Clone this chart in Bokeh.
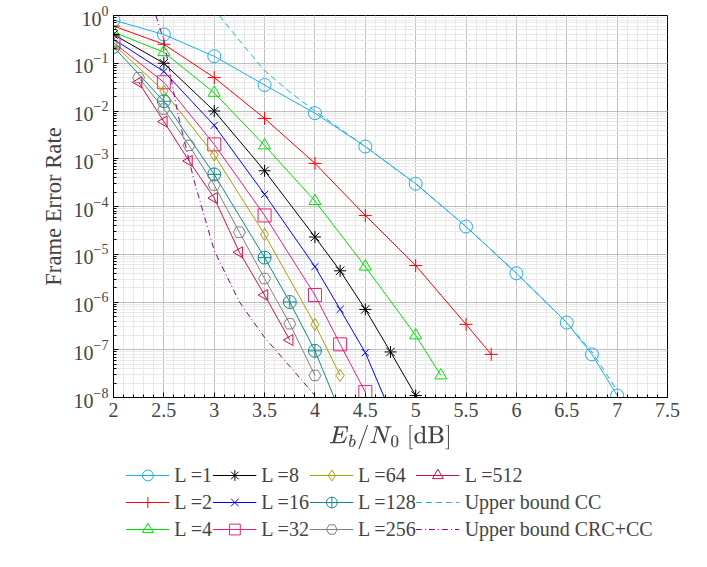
import math
from bokeh.plotting import figure
from bokeh.layouts import column
from bokeh.models import Legend, LegendItem, FixedTicker
from bokeh.embed import file_html
from bokeh.resources import INLINE

x1 = [2, 2.5, 3, 3.5, 4, 4.5, 5, 5.5, 6, 6.5, 6.75, 7]
y1 = [0.8, 0.4, 0.14, 0.035, 0.009, 1.8e-3, 3e-4, 3.8e-5, 4e-6, 3.7e-7, 8e-8, 1.1e-8]
x2 = [2, 2.5, 3, 3.5, 4, 4.5, 5, 5.5, 5.75]
y2 = [0.6, 0.25, 0.05, 7e-3, 8e-4, 6.5e-5, 5.8e-6, 3.4e-7, 8e-8]
x4 = [2, 2.5, 3, 3.5, 4, 4.5, 5, 5.25]
y4 = [0.45, 0.17, 0.024, 1.9e-3, 1.3e-4, 5.5e-6, 2e-7, 2.9e-8]
x8 = [2, 2.5, 3, 3.5, 4, 4.25, 4.5, 4.75, 5]
y8 = [0.4, 0.1, 0.01, 5.6e-4, 2.3e-5, 4.5e-6, 7e-7, 9e-8, 1.1e-8]
x16 = [2, 2.5, 3, 3.5, 4, 4.25, 4.5, 4.75]
y16 = [0.32, 0.067, 5e-3, 1.8e-4, 5.5e-6, 7e-7, 8.7e-8, 5e-9]
x32 = [2, 2.5, 3, 3.5, 4, 4.25, 4.5]
y32 = [0.27, 0.04, 2e-3, 6.5e-5, 1.4e-6, 1.3e-7, 1.3e-8]
x64 = [2, 2.5, 3, 3.5, 4, 4.25]
y64 = [0.25, 0.026, 1.2e-3, 2.6e-5, 3.4e-7, 2.9e-8]
x128 = [2, 2.5, 3, 3.5, 3.75, 4, 4.25]
y128 = [0.22, 0.016, 4.7e-4, 8.5e-6, 1e-6, 9.5e-8, 5e-9]
x256 = [2.25, 2.5, 2.75, 3, 3.25, 3.5, 3.75, 4]
y256 = [0.05, 0.011, 1.9e-3, 2.8e-4, 2.9e-5, 3.1e-6, 3.5e-7, 2.9e-8]
x512 = [2.25, 2.5, 2.75, 3, 3.25, 3.5, 3.75]
y512 = [0.04, 6e-3, 9e-4, 1.5e-4, 1.1e-5, 1.4e-6, 1.6e-7]
xub = [3.05, 3.25, 3.5, 3.75, 4, 4.5, 5, 5.5, 6, 6.5, 6.75, 7]
yub = [1.0, 0.3, 0.07, 0.025, 0.01, 1.8e-3, 3e-4, 3.8e-5, 4e-6, 3.7e-7, 9e-8, 1.4e-8]
xcrc = [2.42, 2.5, 2.64, 2.8, 3, 3.25, 3.5, 3.75, 4]
ycrc = [1.0, 0.3, 8.5e-3, 3.5e-4, 1.2e-5, 1e-6, 1.8e-7, 4.5e-8, 1.1e-8]

FONT = "Liberation Serif"
p = figure(frame_width=554, frame_height=382, x_range=(2, 7.5), y_range=(1e-8, 1),
           y_axis_type="log", output_backend="svg", toolbar_location=None,
           min_border_left=113, min_border_right=25, min_border_top=15, min_border_bottom=0)
p.outline_line_color = "black"
p.xaxis.ticker = FixedTicker(ticks=[2, 2.5, 3, 3.5, 4, 4.5, 5, 5.5, 6, 6.5, 7, 7.5],
                             minor_ticks=[2 + 0.1 * i for i in range(56)])
p.yaxis.ticker.desired_num_ticks = 9
for ax in (p.xaxis, p.yaxis):
    ax.major_label_text_font = FONT
    ax.major_label_text_font_size = "15pt"
    ax.axis_label_text_font = FONT
    ax.axis_label_text_font_size = "17pt"
    ax.axis_label_text_font_style = "normal"
    ax.major_tick_in = 5
    ax.major_tick_out = 0
    ax.minor_tick_in = 3
    ax.minor_tick_out = 0
p.xaxis.axis_label = r"$$E_b/N_0\ \mathrm{[dB]}$$"
p.yaxis.axis_label = "Frame Error Rate"
p.xgrid.grid_line_color = "#c0c0c0"
p.ygrid.grid_line_color = "#c0c0c0"
p.xgrid.minor_grid_line_color = "#e8e8e8"
p.ygrid.minor_grid_line_color = "#e8e8e8"

q = figure(width=690, height=100, output_backend="svg", toolbar_location=None,
           x_range=(0, 1), y_range=(0, 1), min_border=0)
q.axis.visible = False
q.grid.visible = False
q.outline_line_color = None
OFF = [-10]

items = []
def series(x, y, color, marker, label, size=11, angle=0.0):
    p.line(x, y, line_color=color, line_width=1)
    p.scatter(x, y, marker=marker, size=size, line_color=color, angle=angle,
              fill_color=None, line_width=1)
    l1 = q.line(OFF, OFF, line_color=color, line_width=1)
    l2 = q.scatter(OFF, OFF, marker=marker, size=size, line_color=color, angle=angle,
                   fill_color=None, line_width=1)
    items.append(LegendItem(label=label, renderers=[l1, l2]))

series(x1, y1, "#1aafe6", "circle", "L =1", 13)
series(x2, y2, "red", "cross", "L =2", 13)
series(x4, y4, "#00e000", "triangle", "L =4", 12)
series(x8, y8, "black", "asterisk", "L =8", 12)
series(x16, y16, "blue", "x", "L =16", 10)
series(x32, y32, "#e8207d", "square", "L =32", 13)
series(x64, y64, "#a8a000", "diamond", "L =64", 12)
series(x128, y128, "#108a8a", "circle_cross", "L =128", 13)
series(x256, y256, "gray", "hex", "L =256", 12)
series(x512, y512, "#d0104a", "triangle", "L =512", 11, angle=math.pi / 2)
p.line(xub, yub, line_color="#1aafe6", line_dash="6 4", line_width=1)
r = q.line(OFF, OFF, line_color="#1aafe6", line_dash="6 4", line_width=1)
items.append(LegendItem(label="Upper bound CC", renderers=[r]))
p.line(xcrc, ycrc, line_color="#8b008b", line_dash="6 3 1 3", line_width=1)
r = q.line(OFF, OFF, line_color="#8b008b", line_dash="6 3 1 3", line_width=1)
items.append(LegendItem(label="Upper bound CRC+CC", renderers=[r]))

leg = Legend(items=items, nrows=3, location="center", border_line_color=None,
             background_fill_alpha=0,
             label_text_font=FONT, label_text_font_size="15pt",
             glyph_width=44, spacing=0, padding=2, margin=0, label_standoff=5,
             label_height=27, glyph_height=27)
q.add_layout(leg, "center")

open("out.html", "w").write(file_html(column(p, q, spacing=0), INLINE))
